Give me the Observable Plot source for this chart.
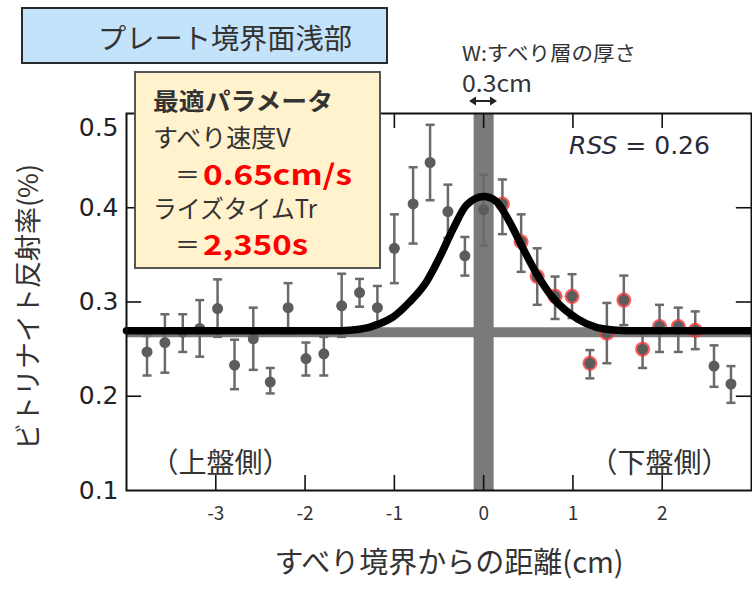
<!DOCTYPE html>
<html><head><meta charset="utf-8">
<script src="https://cdn.jsdelivr.net/npm/d3@7"></script>
<script src="https://cdn.jsdelivr.net/npm/@observablehq/plot@0.6"></script>
<style>body{margin:0;background:#fff;} svg{display:block;}</style>
</head><body><div id="chart"></div>
<script>
// ---- data ----
const distance = [-3.77,-3.57,-3.37,-3.18,-2.98,-2.79,-2.58,-2.39,-2.19,-1.99,-1.79,-1.59,-1.39,-1.19,-1.0,-0.79,-0.6,-0.4,-0.21,0,0.21,0.42,0.6,0.8,0.99,1.19,1.38,1.57,1.78,1.97,2.18,2.37,2.58,2.77];
const reflectance = [0.247,0.257,0.268,0.272,0.293,0.233,0.261,0.215,0.294,0.240,0.245,0.296,0.310,0.294,0.357,0.404,0.448,0.396,0.349,0.398,0.404,0.364,0.327,0.306,0.306,0.235,0.267,0.302,0.250,0.274,0.274,0.270,0.232,0.213];
const errLow  = [0.222,0.225,0.247,0.242,0.263,0.2075,0.228,0.203,0.267,0.222,0.222,0.263,0.295,0.278,0.320,0.362,0.408,0.368,0.328,0.360,0.372,0.332,0.297,0.282,0.283,0.219,0.235,0.2755,0.230,0.247,0.247,0.250,0.210,0.193];
const errHigh = [0.264,0.287,0.287,0.302,0.324,0.260,0.294,0.230,0.320,0.257,0.263,0.330,0.3245,0.317,0.393,0.443,0.488,0.4245,0.369,0.435,0.430,0.393,0.357,0.327,0.3295,0.249,0.299,0.328,0.268,0.297,0.294,0.290,0.254,0.232];
const fittedFlag = [0,0,0,0,0,0,0,0,0,0,0,0,0,0,0,0,0,0,0,0,1,1,1,1,1,1,1,1,1,1,1,1,0,0];
const fitX = [-4,-1.6,-1.39,-1.165,-1.016,-0.83,-0.64,-0.49,-0.34,-0.19,0,0.14,0.29,0.44,0.59,0.78,0.96,1.15,1.37,1.6,3];
const fitY = [0.2695,0.2695,0.271,0.277,0.284,0.300,0.3216,0.348,0.378,0.403,0.412,0.407,0.385,0.357,0.3305,0.304,0.288,0.277,0.271,0.2695,0.2695];
const baseline = [0.268];
const slipCenter = [0];
const xTicks = [-3,-2,-1,0,1,2];
const yTicks = [0.1,0.2,0.3,0.4,0.5];
const xTitle = "すべり境界からの距離(cm)";
const yTitle = "ビトリナイト反射率(%)";
const sideLabels = ["（上盤側）","（下盤側）"];

const points = distance.map((x,i)=>({x, y: reflectance[i], lo: errLow[i], hi: errHigh[i], red: fittedFlag[i]===1}));
const fit = fitX.map((x,i)=>({x, y: fitY[i]}));
const redPts = points.filter(d=>d.red);

const JP = "'Noto Sans CJK JP', sans-serif";
const capSymbol = {draw(ctx, size){ const r = Math.sqrt(size/Math.PI); ctx.moveTo(-r,0); ctx.lineTo(r,0); }};
const tx = 0.17, ty = 0.016;

const chart = Plot.plot({
  width: 752, height: 590,
  marginLeft: 126, marginRight: 1, marginTop: 113, marginBottom: 100,
  style: {background: "#fff"},
  x: {domain: [-4, 3], axis: null},
  y: {domain: [0.1, 0.5], axis: null},
  marks: [
    Plot.ruleY(baseline, {y: d=>d, stroke: "#7a7a7a", strokeWidth: 10}),
    Plot.ruleX(slipCenter, {x: d=>d, stroke: "#7a7a7a", strokeWidth: 20}),
    Plot.ruleX(points, {x: "x", y1: "lo", y2: "hi", stroke: "#6a6a6a", strokeWidth: 2.5}),
    Plot.dot(points, {x: "x", y: "lo", symbol: capSymbol, r: 4.5, stroke: "#6a6a6a", strokeWidth: 2.5, fill: "none"}),
    Plot.dot(points, {x: "x", y: "hi", symbol: capSymbol, r: 4.5, stroke: "#6a6a6a", strokeWidth: 2.5, fill: "none"}),
    Plot.dot(redPts, {x: "x", y: "y", r: 7.5, fill: "#ff2a2a", fillOpacity: 0.75}),
    Plot.dot(points, {x: "x", y: "y", r: 5.5, fill: "#5c5c5c"}),
    Plot.line(fit, {x: "x", y: "y", stroke: "#000", strokeWidth: 7.5, curve: "monotone-x"}),
    Plot.frame({stroke: "#111", strokeWidth: 2}),
    Plot.ruleX(xTicks, {x: d=>d, y1: 0.1, y2: 0.1+ty, stroke: "#111", strokeWidth: 1.6}),
    Plot.ruleX(xTicks, {x: d=>d, y1: 0.5, y2: 0.5-ty, stroke: "#111", strokeWidth: 1.6}),
    Plot.ruleY(yTicks.slice(1,-1), {y: d=>d, x1: -4, x2: -4+tx, stroke: "#111", strokeWidth: 1.6}),
    Plot.ruleY(yTicks.slice(1,-1), {y: d=>d, x1: 3, x2: 3-tx, stroke: "#111", strokeWidth: 1.6}),
    Plot.text(xTicks, {x: d=>d, frameAnchor: "bottom", dy: 29, text: d=>String(d), fontSize: 19, fill: "#333", fontFamily: JP}),
    Plot.text(yTicks.slice(0,-1), {y: d=>d, frameAnchor: "left", dx: -8, textAnchor: "end", text: d=>d.toFixed(1), fontSize: 25, fill: "#222", fontFamily: "'DejaVu Sans', sans-serif"}),
    Plot.text(yTicks.slice(-1), {y: d=>d, frameAnchor: "left", dx: -8, dy: 14, textAnchor: "end", text: d=>d.toFixed(1), fontSize: 25, fill: "#222", fontFamily: "'DejaVu Sans', sans-serif"}),
    Plot.text([xTitle], {frameAnchor: "bottom", dx: 10, dy: 82, text: d=>d, fontSize: 29, fill: "#333", fontFamily: JP}),
    Plot.text([yTitle], {frameAnchor: "left", textAnchor: "middle", dx: -97, dy: 5, rotate: -90, text: d=>d, fontSize: 27, fill: "#333", fontFamily: JP}),
    Plot.text(sideLabels.slice(0,1), {frameAnchor: "bottom-left", textAnchor: "middle", dx: 94, dy: -18, text: d=>d, fontSize: 28, fill: "#333", fontFamily: JP}),
    Plot.text(sideLabels.slice(1), {frameAnchor: "bottom-right", textAnchor: "middle", dx: -92, dy: -18, text: d=>d, fontSize: 28, fill: "#333", fontFamily: JP})
  ]
});
document.getElementById("chart").appendChild(chart);

// ---- annotations (boxes and notes) ----
const svg = d3.select(chart);
const g = svg.append("g").attr("text-anchor","start");
g.append("rect").attr("x",22).attr("y",8).attr("width",365).attr("height",55)
  .attr("fill","#c3e3fb").attr("stroke","#2a2a2a").attr("stroke-width",2);
g.append("text").attr("x",98).attr("y",37).attr("text-anchor","start").attr("dominant-baseline","central")
  .attr("font-family",JP).attr("font-size",28).attr("fill","#333")
  .attr("textLength",254).attr("lengthAdjust","spacingAndGlyphs").text("プレート境界面浅部");

g.append("rect").attr("x",135).attr("y",72).attr("width",245).attr("height",196)
  .attr("fill","#fff2cc").attr("stroke","#555").attr("stroke-width",2);
const line = (x, y, txt, opts={}) => {
  const t = g.append("text").attr("x",x).attr("y",y).attr("dominant-baseline","central")
    .attr("text-anchor","start")
    .attr("font-family",JP).attr("font-size",opts.size||25).attr("fill",opts.fill||"#333")
    .attr("font-weight",opts.bold?"bold":"normal").text(txt);
  if (opts.len) t.attr("textLength",opts.len).attr("lengthAdjust","spacingAndGlyphs");
  return t;
};
line(153,99,"最適パラメータ",{bold:true, size:24, len:180});
line(153,136,"すべり速度V",{size:25});
line(175,173,"＝",{size:25});
line(203,173,"0.65cm/s",{bold:true, size:28, fill:"#ff0000", len:149});
line(153,207,"ライズタイムTr",{size:25, len:164});
line(175,243,"＝",{size:25});
line(203,243,"2,350s",{bold:true, size:28, fill:"#ff0000", len:105});

// slip layer note
line(462,52,"W:すべり層の厚さ",{size:20, fill:"#333", len:174});
line(462,82,"0.3cm",{size:23, fill:"#333", len:70});
g.append("line").attr("x1",473).attr("x2",493).attr("y1",101).attr("y2",101).attr("stroke","#222").attr("stroke-width",2);
g.append("path").attr("d","M469,101 L476,96.5 L476,105.5 Z M497,101 L490,96.5 L490,105.5 Z").attr("fill","#222");

// RSS
const rss = g.append("text").attr("x",569).attr("y",146).attr("dominant-baseline","central").attr("text-anchor","start")
  .attr("font-family","'DejaVu Sans', sans-serif").attr("font-size",24).attr("fill","#2a2a38")
  .attr("textLength",141).attr("lengthAdjust","spacingAndGlyphs");
rss.append("tspan").attr("font-style","italic").text("RSS");
rss.append("tspan").text(" = 0.26");
</script>
</body></html>
